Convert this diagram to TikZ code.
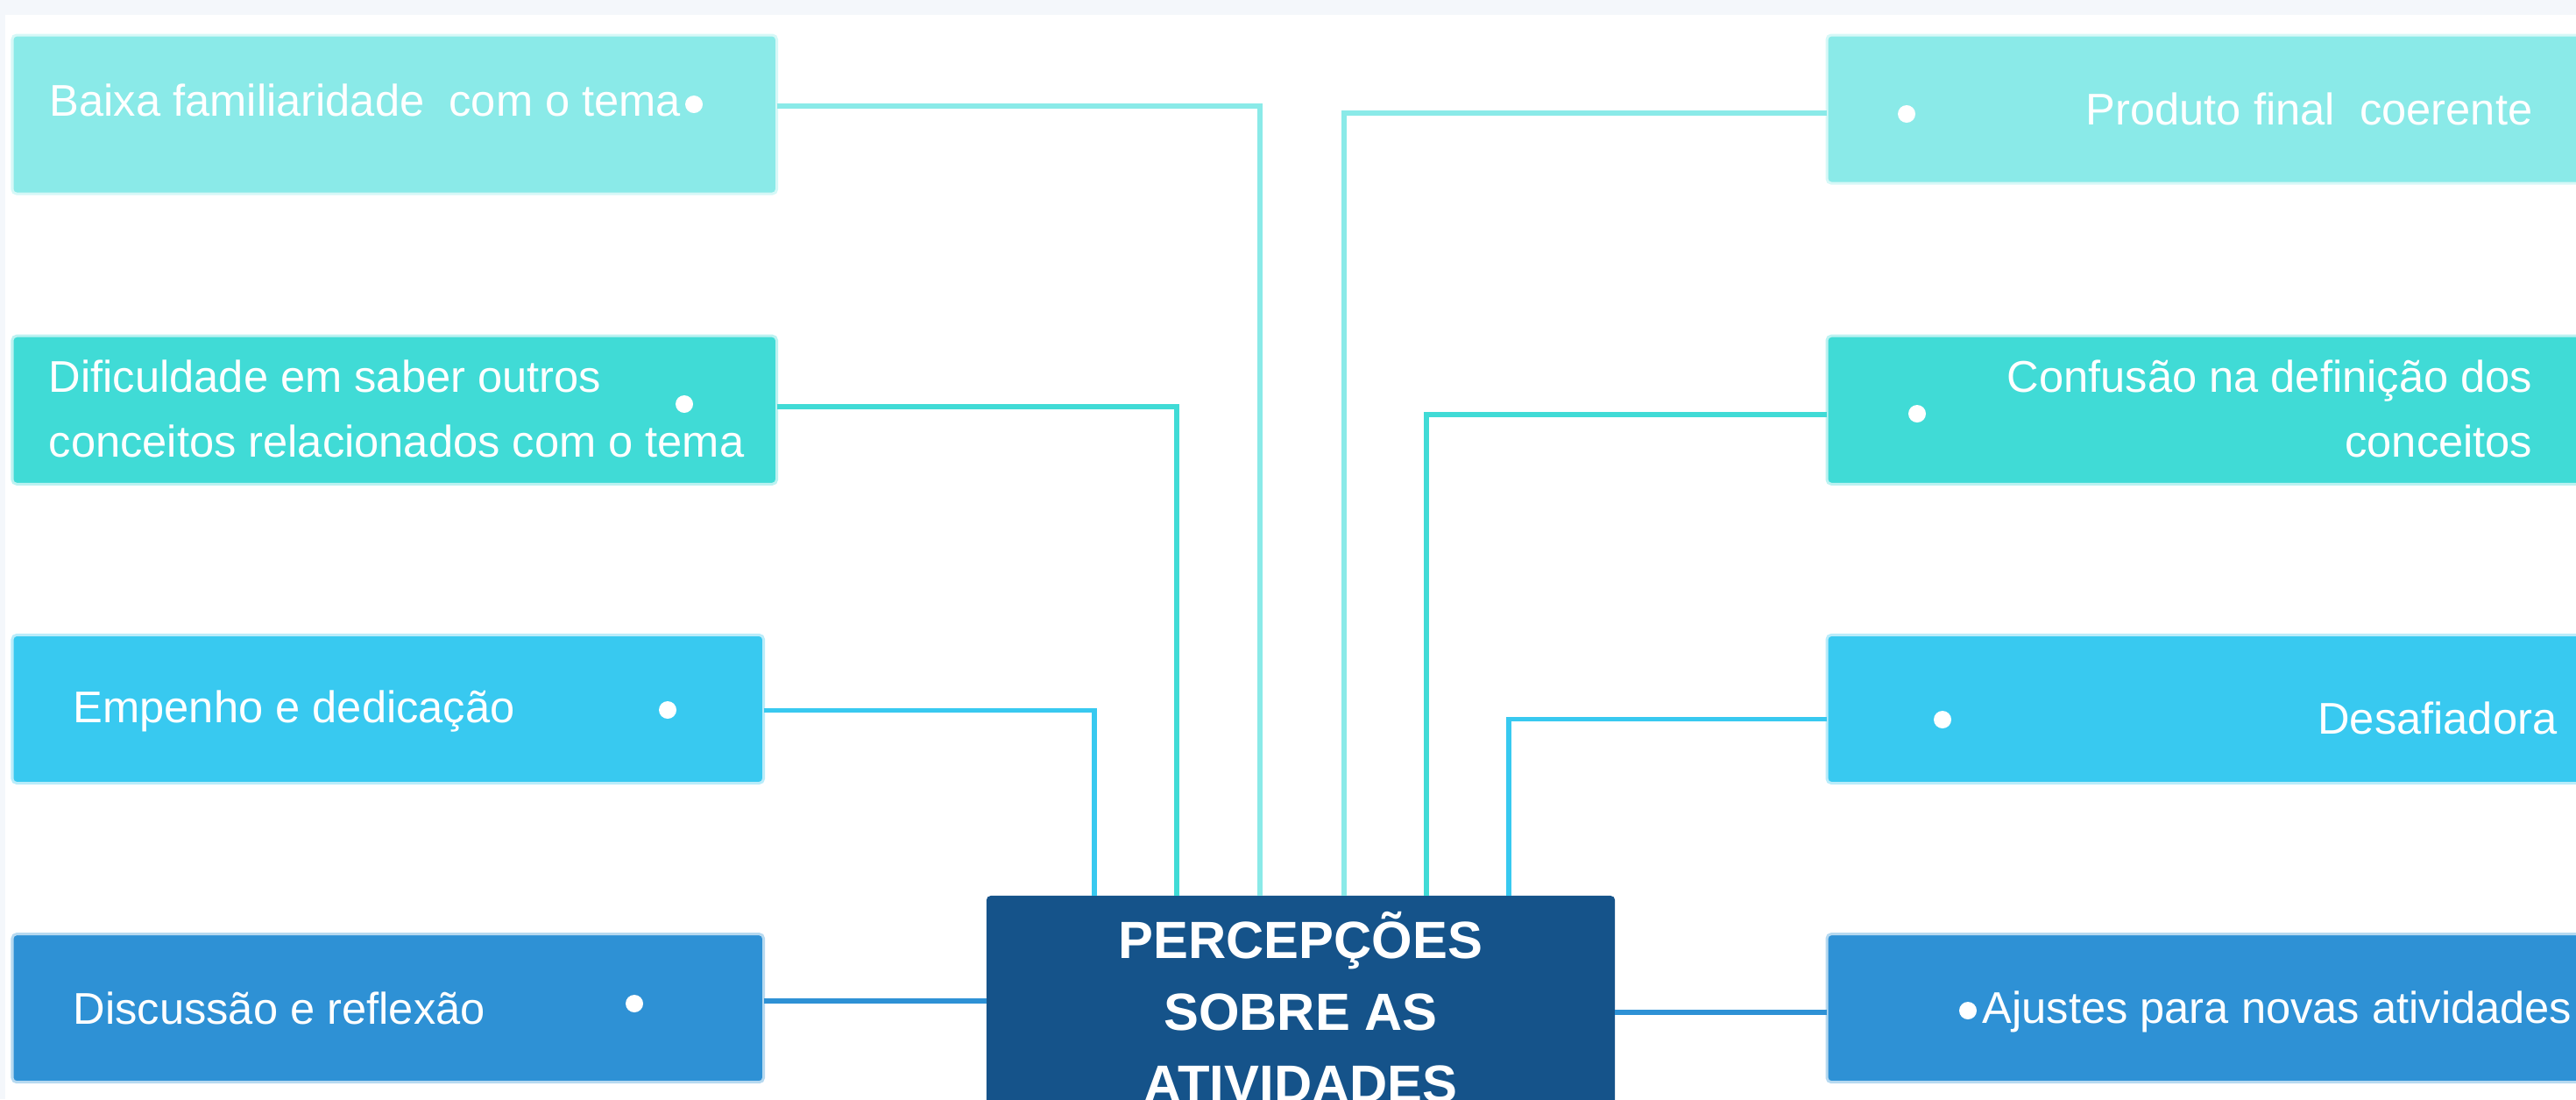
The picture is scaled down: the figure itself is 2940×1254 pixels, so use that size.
\documentclass[tikz,border=0pt]{standalone}
\usepackage{fontspec}
\setmainfont{Liberation Sans}
\usetikzlibrary{positioning}
\definecolor{mycyan}{RGB}{138,234,232}
\definecolor{myteal}{RGB}{64,219,214}
\definecolor{mysky}{RGB}{56,201,240}
\definecolor{myblue}{RGB}{46,145,213}
\definecolor{mynavy}{RGB}{21,83,138}
\definecolor{mypale}{RGB}{244,247,251}

\begin{document}
\begin{tikzpicture}[
    x=0.01cm, y=-0.01cm,
    item/.style={rectangle, rounded corners=0.05cm, fill=#1, draw=#1!35, line width=0.03cm, inner sep=0, outer sep=0, minimum width=8.72cm, minimum height=1.69cm},
    core/.style={rectangle, rounded corners=0.05cm, fill=mynavy, text=white, align=center, font=\fontsize{17}{23.3}\selectfont\bfseries, inner sep=0, outer sep=0, minimum width=7.17cm, minimum height=2.54cm},
    lbl/.style={text=white, font=\fontsize{14.4}{21}\selectfont, inner sep=0},
    bullet/.style={circle, fill=white, inner sep=0, minimum size=0.2cm},
    link/.style={line width=0.055cm}
]

% Background
\fill[mypale] (0,0) rectangle (2940,17);
\fill[mypale] (0,0) rectangle (6,1254);
\useasboundingbox (0,0) rectangle (2940,1254);

% Left column
\node[item=mycyan, minimum height=1.81cm, anchor=north west] (b1) at (14,40) {};
\node[item=myteal, below=1.62cm of b1.south west, anchor=north west] (b2) {};
\node[item=mysky, minimum width=8.57cm, below=1.72cm of b2.south west, anchor=north west] (b3) {};
\node[item=myblue, minimum width=8.57cm, below=1.72cm of b3.south west, anchor=north west] (b4) {};

% Right column
\node[item=mycyan, minimum width=9cm, anchor=north west] (r1) at (2085,40) {};
\node[item=myteal, minimum width=9cm, below=1.74cm of r1.south west, anchor=north west] (r2) {};
\node[item=mysky, minimum width=9cm, below=1.72cm of r2.south west, anchor=north west] (r3) {};
\node[item=myblue, minimum width=9cm, below=1.72cm of r3.south west, anchor=north west] (r4) {};

% Centre
\node[core] (perc) at (1484.5,1149) {PERCEPÇÕES\\SOBRE AS\\ATIVIDADES};

% Labels (base of the last line)
\node[lbl, anchor=base west] (t1) at (56,132) {Baixa familiaridade~ com o tema};
\node[lbl, anchor=base west, align=left] (t2) at (55,521) {Dificuldade em saber outros\\conceitos relacionados com o tema};
\node[lbl, anchor=base west] (t3) at (83,824) {Empenho e dedicação};
\node[lbl, anchor=base west] (t4) at (83,1168) {Discussão e reflexão};
\node[lbl, anchor=base east] (t5) at (2891,142) {Produto final~ coerente};
\node[lbl, anchor=base east, align=right] (t6) at (2891,521) {Confusão na definição dos\\conceitos};
\node[lbl, anchor=base east] (t7) at (2919,837) {Desafiadora};
\node[lbl, anchor=base east] (t8) at (2936,1167) {Ajustes para novas atividades};

% Bullets
\node[bullet] (p1) at (792,119) {};
\node[bullet] (p2) at (781,461) {};
\node[bullet] (p3) at (762,810) {};
\node[bullet] (p4) at (724,1145) {};
\node[bullet] (p5) at (2176,130) {};
\node[bullet] (p6) at (2188,472) {};
\node[bullet] (p7) at (2217,821) {};
\node[bullet] (p8) at (2246,1153) {};

% Links
\draw[link, mycyan] ([yshift=0.095cm]b1.east) -| ([xshift=-0.465cm]perc.north);
\draw[link, myteal] ([yshift=0.04cm]b2.east) -| ([xshift=-1.415cm]perc.north);
\draw[link, mysky] ([yshift=-0.015cm]b3.east) -| ([xshift=-2.355cm]perc.north);
\draw[link, mycyan] ([yshift=-0.045cm]r1.west) -| ([xshift=0.495cm]perc.north);
\draw[link, myteal] ([yshift=-0.05cm]r2.west) -| ([xshift=1.435cm]perc.north);
\draw[link, mysky] ([yshift=-0.115cm]r3.west) -| ([xshift=2.375cm]perc.north);
\coordinate (l4) at ([yshift=0.08cm]b4.east);
\coordinate (r4in) at ([yshift=-0.05cm]r4.west);
\draw[link, myblue] (l4) -- (l4 -| perc.west);
\draw[link, myblue] (perc.east |- r4in) -- (r4in);

\end{tikzpicture}
\end{document}
